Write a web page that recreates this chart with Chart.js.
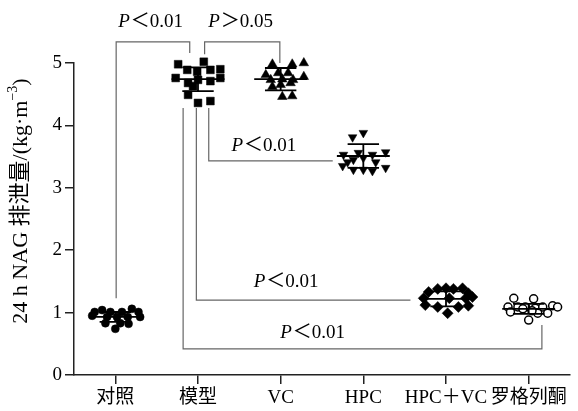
<!DOCTYPE html>
<html>
<head>
<meta charset="utf-8">
<script src="https://cdn.jsdelivr.net/npm/chart.js@4.4.1/dist/chart.umd.min.js"></script>
<style>
  html, body { margin: 0; padding: 0; background: #fff; }
</style>
</head>
<body>
<canvas id="nag-canvas" width="578" height="411"></canvas>
<script>
// groups on the x axis
var categories = ['对照', '模型', 'VC', 'HPC', 'HPC＋VC', '罗格列酮'];
var yTicks = [0, 1, 2, 3, 4, 5];
var yTitle = '24 h NAG 排泄量/(kg·m';
var yTitleSup = '−3';

// individual animals: x = jittered group position, y = value
var controlX = [-0.25, -0.16, -0.06, 0.08, 0.2, 0.28, -0.28, -0.1, 0.02, 0.15, 0.3, -0.12, 0.06, 0.16, 0];
var controlY = [1.01, 1.04, 1.01, 1.01, 1.06, 1.01, 0.95, 0.93, 0.93, 0.93, 0.93, 0.83, 0.83, 0.82, 0.74];
var modelX = [0.76, 1.07, 0.87, 0.99, 1.15, 1.27, 0.73, 0.88, 1.0, 1.15, 1.27, 0.94, 0.88, 1.0, 1.15];
var modelY = [4.98, 5.02, 4.89, 4.86, 4.89, 4.9, 4.76, 4.68, 4.73, 4.71, 4.76, 4.63, 4.49, 4.36, 4.39];
var vcX = [1.9, 2.14, 2.28, 1.82, 1.97, 2.09, 2.28, 1.88, 2.02, 2.15, 1.9, 2.0, 2.12, 2.02, 2.14];
var vcY = [4.98, 4.98, 5.0, 4.81, 4.84, 4.84, 4.78, 4.73, 4.74, 4.73, 4.62, 4.65, 4.68, 4.46, 4.47];
var hpcX = [2.87, 3.0, 2.76, 2.94, 3.11, 3.27, 2.75, 2.88, 3.0, 3.15, 2.88, 3.0, 3.11, 3.27, 2.81];
var hpcY = [3.81, 3.88, 3.53, 3.56, 3.53, 3.57, 3.35, 3.45, 3.48, 3.41, 3.29, 3.29, 3.27, 3.32, 3.41];
var hpcVcX = [3.79, 3.9, 4.0, 4.09, 4.2, 4.27, 3.73, 4.04, 4.24, 4.32, 3.75, 3.9, 4.15, 4.27, 4.02];
var hpcVcY = [1.33, 1.38, 1.39, 1.38, 1.39, 1.31, 1.23, 1.23, 1.23, 1.25, 1.12, 1.09, 1.09, 1.11, 0.99];
var rosiX = [4.82, 5.06, 4.75, 4.87, 4.96, 5.08, 5.17, 5.29, 5.23, 5.0, 4.78, 5.11, 5.35, 4.93, 5.04];
var rosiY = [1.23, 1.22, 1.09, 1.09, 1.09, 1.07, 1.09, 1.11, 0.99, 0.88, 1.01, 0.99, 1.09, 1.06, 1.03];

// mean and SD per group
var means = [0.93, 4.74, 4.74, 3.51, 1.22, 1.06];
var sds = [0.08, 0.19, 0.18, 0.19, 0.12, 0.08];

// significance brackets: start foot, bar level, end foot, label anchor
var bracketX1 = [0.01, 1.08, 1.13, 0.98, 0.82];
var bracketY1 = [1.23, 5.14, 4.28, 4.28, 4.28];
var bracketBar = [5.34, 5.34, 3.43, 1.2, 0.42];
var bracketX2 = [0.9, 1.99, 2.63, 3.57, 5.16];
var bracketY2 = [5.16, 5.0, 3.43, 1.2, 0.8];
var bracketSign = ['＜', '＞', '＜', '＜', '＜'];
var bracketP = ['0.01', '0.05', '0.01', '0.01', '0.01'];
var labelX = [0.42, 1.51, 1.79, 2.06, 2.38];
var labelY = [5.66, 5.66, 3.67, 1.49, 0.67];

var serif = "'Liberation Serif', 'Noto Sans CJK SC', serif";

function points(xs, ys) {
  var out = [];
  for (var i = 0; i < xs.length; i++) out.push({x: xs[i], y: ys[i]});
  return out;
}

function group(label, xs, ys, style, radius, fill, rotation) {
  return {
    label: label,
    data: points(xs, ys),
    pointStyle: style,
    pointRadius: radius,
    pointRotation: rotation || 0,
    backgroundColor: fill,
    borderColor: '#000',
    borderWidth: fill === '#fff' ? 1.5 : 0.5,
    clip: false
  };
}

var datasets = [
  group(categories[0], controlX, controlY, 'circle', 4, '#000'),
  group(categories[1], modelX, modelY, 'rect', 5.5, '#000'),
  group(categories[2], vcX, vcY, 'triangle', 5.5, '#000'),
  group(categories[3], hpcX, hpcY, 'triangle', 5, '#000', 180),
  group(categories[4], hpcVcX, hpcVcY, 'rectRot', 5.5, '#000'),
  group(categories[5], rosiX, rosiY, 'circle', 4, '#fff')
];

var marksPlugin = {
  id: 'marks',
  afterDatasetsDraw: function(chart) {
    var ctx = chart.ctx;
    var xs = chart.scales.x, ys = chart.scales.y;
    ctx.save();

    // mean line + SD bars
    ctx.strokeStyle = '#000';
    ctx.lineWidth = 1.8;
    for (var i = 0; i < categories.length; i++) {
      var cx = xs.getPixelForValue(i);
      var ym = ys.getPixelForValue(means[i]);
      var yt = ys.getPixelForValue(means[i] + sds[i]);
      var yb = ys.getPixelForValue(means[i] - sds[i]);
      var wm = xs.getPixelForValue(i + 0.32) - cx;
      var ws = xs.getPixelForValue(i + 0.19) - cx;
      ctx.beginPath();
      ctx.moveTo(cx - wm, ym); ctx.lineTo(cx + wm, ym);
      ctx.moveTo(cx - ws, yt); ctx.lineTo(cx + ws, yt);
      ctx.moveTo(cx - ws, yb); ctx.lineTo(cx + ws, yb);
      ctx.moveTo(cx, yt); ctx.lineTo(cx, yb);
      ctx.stroke();
    }

    // brackets
    ctx.strokeStyle = '#666';
    ctx.lineWidth = 1.2;
    for (var b = 0; b < bracketX1.length; b++) {
      var x1 = xs.getPixelForValue(bracketX1[b]);
      var x2 = xs.getPixelForValue(bracketX2[b]);
      var yb1 = ys.getPixelForValue(bracketY1[b]);
      var ybar = ys.getPixelForValue(bracketBar[b]);
      var yb2 = ys.getPixelForValue(bracketY2[b]);
      ctx.beginPath();
      ctx.moveTo(x1, yb1);
      ctx.lineTo(x1, ybar);
      ctx.lineTo(x2, ybar);
      ctx.lineTo(x2, yb2);
      ctx.stroke();

      // P label, italic P
      var pFont = 'italic 19px ' + serif;
      var rFont = '19px ' + serif;
      var rest = bracketSign[b] + bracketP[b];
      ctx.font = pFont;
      var wP = ctx.measureText('P').width;
      ctx.font = rFont;
      var wR = ctx.measureText(rest).width;
      var lx = xs.getPixelForValue(labelX[b]) - (wP + wR) / 2;
      var ly = ys.getPixelForValue(labelY[b]);
      ctx.fillStyle = '#000';
      ctx.textBaseline = 'middle';
      ctx.textAlign = 'left';
      ctx.font = pFont;
      ctx.fillText('P', lx, ly);
      ctx.font = rFont;
      ctx.fillText(rest, lx + wP + 1, ly);
    }
    ctx.restore();
  },
  afterDraw: function(chart) {
    // rotated y title with superscript
    var ctx = chart.ctx;
    ctx.save();
    ctx.fillStyle = '#000';
    ctx.textBaseline = 'middle';
    ctx.textAlign = 'left';
    var mainFont = '22px ' + serif, supFont = '14px ' + serif;
    ctx.font = mainFont;
    var w1 = ctx.measureText(yTitle).width;
    var w3 = ctx.measureText(')').width;
    ctx.font = supFont;
    var w2 = ctx.measureText(yTitleSup).width;
    var total = w1 + w2 + w3;
    ctx.translate(21, 201);
    ctx.rotate(-Math.PI / 2);
    var start = -total / 2;
    ctx.font = mainFont;
    ctx.fillText(yTitle, start, 0);
    ctx.font = supFont;
    ctx.fillText(yTitleSup, start + w1, -8);
    ctx.font = mainFont;
    ctx.fillText(')', start + w1 + w2, 0);
    ctx.restore();
  }
};

window.onload = function() {
  var ctx = document.getElementById('nag-canvas').getContext('2d');
  window.nagChart = new Chart(ctx, {
    type: 'scatter',
    data: { datasets: datasets },
    plugins: [marksPlugin],
    options: {
      responsive: false,
      animation: false,
      layout: { padding: { top: 63, right: 8, left: 0, bottom: 0 } },
      plugins: {
        legend: { display: false },
        tooltip: { enabled: false }
      },
      scales: {
        x: {
          type: 'linear',
          min: -0.5,
          max: 5.5,
          afterBuildTicks: function(scale) {
            scale.ticks = categories.map(function(c, i) { return { value: i }; });
          },
          afterFit: function(scale) { scale.height = 36; },
          ticks: {
            autoSkip: false,
            maxRotation: 0,
            padding: 3,
            color: '#000',
            font: { family: serif, size: 19 },
            callback: function(v) { return categories[Math.round(v)]; }
          },
          grid: { drawOnChartArea: false, tickLength: 9, color: '#222', lineWidth: 1.5 },
          border: { color: '#222', width: 1.5 }
        },
        y: {
          min: 0,
          max: 5,
          afterBuildTicks: function(scale) {
            scale.ticks = yTicks.map(function(v) { return { value: v }; });
          },
          afterFit: function(scale) { scale.width = 74; },
          ticks: {
            padding: 3,
            color: '#000',
            font: { family: serif, size: 19 }
          },
          grid: { drawOnChartArea: false, tickLength: 9, color: '#222', lineWidth: 1.5 },
          border: { color: '#222', width: 1.5 }
        }
      }
    }
  });
};
</script>
</body>
</html>
